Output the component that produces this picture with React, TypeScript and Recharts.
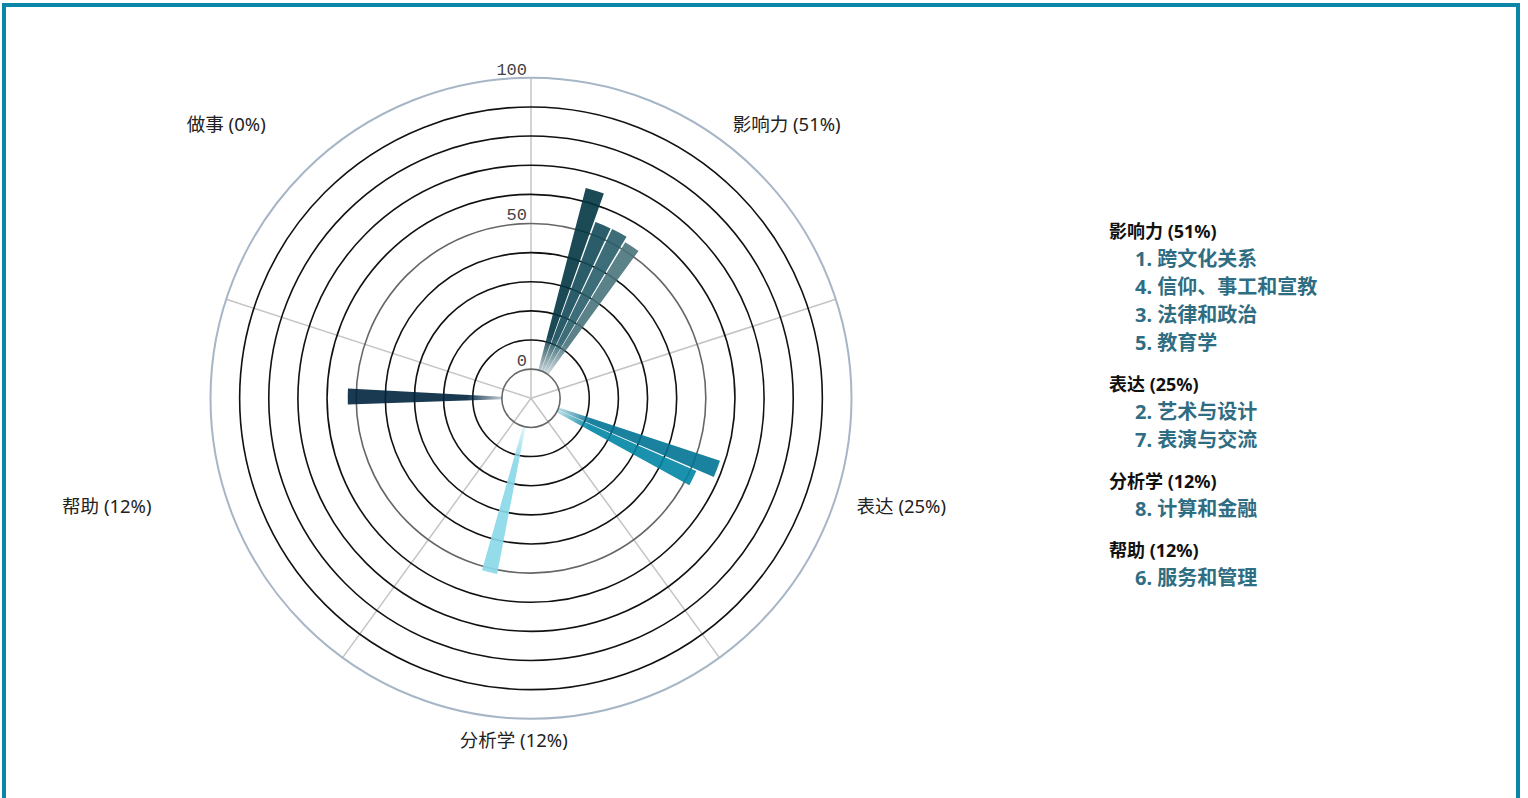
import React from 'react';
import { RadialBarChart, RadialBar, PolarAngleAxis, PolarRadiusAxis, PolarGrid, Cell } from 'recharts';

// ---------- data ----------
const groupNames = ['影响力', '表达', '分析学', '帮助', '做事'];
const groupPercents = [51, 25, 12, 12, 0];
const sectorLabelSlots = [3, 17, 30, 43, 56]; // angular slot carrying each sector's label
const sectorBoundaries = [0, 72, 144, 216, 288]; // degrees clockwise from top

const itemLabels = ['1. 跨文化关系', '4. 信仰、事工和宣教', '3. 法律和政治', '5. 教育学', '2. 艺术与设计', '7. 表演与交流', '8. 计算和金融', '6. 服务和管理'];
const itemGroups = [0, 0, 0, 0, 1, 1, 2, 3];
const itemSlots = [0, 1, 2, 3, 17, 18, 32, 46];
const itemValues = [64.6, 54.4, 54.4, 52.6, 58.3, 52.0, 51.4, 52.9];

const SLOT_COUNT = 65;
const radiusLabelTicks = [0, 50, 100];
const darkCircleValues = [10, 20, 30, 40, 60, 70, 80, 90];
const midCircleValues = [0, 50];
const outerCircleValues = [100];
const radiusDomain = [-10, 100];

// ---------- styles / layout ----------
const itemColors = ['#023643', '#134a59', '#275d6a', '#49737c', '#007394', '#0085a4', '#88d8e8', '#00243f'];
const CX = 531;
const CY = 398.3;
const R = 320.5;
const SLOT_DEG = 5.51;
const FIRST_SLOT_CENTER = 17; // degrees clockwise from top
// recharts draws each bar from its band edge toward the previous band, hence the extra half slot
const START_ANGLE = 90 - (FIRST_SLOT_CENTER + SLOT_DEG / 2);
const END_ANGLE = START_ANGLE - SLOT_COUNT * SLOT_DEG;
const FONT = '"Noto Sans", "Noto Sans CJK SC", sans-serif';
const sectorLabelOffsets = [
  [61.3, -2.8],
  [68.9, -15.8],
  [11.7, 21.8],
  [-104.5, 39.1],
  [-132.2, 12.4],
];

// grid radii derived from the radius domain
const radiusOf = (v: number) => ((v - radiusDomain[0]) / (radiusDomain[1] - radiusDomain[0])) * R;
const spokeAngles = sectorBoundaries.map((b) => 90 - b);

// table built from the arrays above
const tableData = Array.from({ length: SLOT_COUNT }, (_, k) => {
  const i = itemSlots.indexOf(k);
  const s = sectorLabelSlots.indexOf(k);
  return {
    slot: String(k),
    value: i >= 0 ? itemValues[i] : null,
    item: i >= 0 ? i : -1,
    sector: s,
  };
});

const SectorTick = (props: any) => {
  const { x, y, index } = props;
  const row = tableData[index];
  if (!row || row.sector < 0) return null;
  const s = row.sector;
  const off = sectorLabelOffsets[s];
  return (
    <text x={x + off[0]} y={y + off[1]} textAnchor="middle" fontFamily={FONT} fontSize={18.5} fill="#222">
      {`${groupNames[s]} (${groupPercents[s]}%)`}
    </text>
  );
};

const RadiusTick = (props: any) => {
  const { x, y, payload } = props;
  return (
    <text x={x - 4} y={y - 3} textAnchor="end" fontFamily='"Liberation Mono", monospace' fontSize={17} fill="#444">
      {payload.value}
    </text>
  );
};

const GroupLegend = () => (
  <div style={{ position: 'absolute', left: 1109, top: 217, fontFamily: FONT }}>
    {groupNames.map((g, gi) => {
      const items = itemLabels.filter((_, i) => itemGroups[i] === gi);
      if (!items.length) return null;
      return (
        <div key={g} style={{ marginBottom: 13 }}>
          <div style={{ fontSize: 18, fontWeight: 700, color: '#111', lineHeight: '28px', whiteSpace: 'nowrap' }}>
            {`${g} (${groupPercents[gi]}%)`}
          </div>
          {items.map((it) => (
            <div key={it} style={{ fontSize: 20, fontWeight: 700, color: '#2f6d82', lineHeight: '28px', paddingLeft: 26, whiteSpace: 'nowrap' }}>
              {it}
            </div>
          ))}
        </div>
      );
    })}
  </div>
);

export default function App() {
  return (
    <div style={{ position: 'fixed', left: 0, top: 0, width: 1528, height: 798, background: '#fff', overflow: 'hidden' }}>
      <div style={{ position: 'absolute', left: 0, top: 0 }}>
        <RadialBarChart
          width={1528}
          height={798}
          data={tableData}
          layout="centric"
          cx={CX}
          cy={CY}
          innerRadius={0}
          outerRadius={R}
          startAngle={START_ANGLE}
          endAngle={END_ANGLE}
          barCategoryGap="3%"
          margin={{ top: 0, right: 0, bottom: 0, left: 0 }}
        >
          <defs>
            {itemColors.map((c, i) => (
              <radialGradient key={i} id={`barGrad${i}`} gradientUnits="userSpaceOnUse" cx={CX} cy={CY} r={R}>
                <stop offset="0" stopColor={c} stopOpacity={0} />
                <stop offset="0.05" stopColor={c} stopOpacity={0} />
                <stop offset="0.2" stopColor={c} stopOpacity={0.9} />
                <stop offset="1" stopColor={c} stopOpacity={0.9} />
              </radialGradient>
            ))}
          </defs>
          <PolarGrid polarAngles={spokeAngles} polarRadius={[]} gridType="circle" radialLines stroke="#c4c4c4" strokeWidth={1.5} />
          <PolarGrid polarAngles={[]} polarRadius={darkCircleValues.map(radiusOf)} gridType="circle" radialLines={false} stroke="#111" strokeWidth={1.6} />
          <PolarGrid polarAngles={[]} polarRadius={midCircleValues.map(radiusOf)} gridType="circle" radialLines={false} stroke="#666" strokeWidth={1.6} />
          <PolarGrid polarAngles={[]} polarRadius={outerCircleValues.map(radiusOf)} gridType="circle" radialLines={false} stroke="#a7b6c6" strokeWidth={2} />
          <PolarAngleAxis
            type="category"
            dataKey="slot"
            axisLine={false}
            tickLine={false}
            tick={<SectorTick />}
          />
          <PolarRadiusAxis
            type="number"
            domain={radiusDomain}
            ticks={radiusLabelTicks}
            angle={90}
            axisLine={false}
            tick={<RadiusTick />}
          />
          <RadialBar dataKey="value" isAnimationActive={false}>
            {tableData.map((row, k) => (
              <Cell key={k} fill={row.item >= 0 ? `url(#barGrad${row.item})` : 'none'} />
            ))}
          </RadialBar>
        </RadialBarChart>
      </div>
      <GroupLegend />
      <div
        style={{
          position: 'absolute',
          left: 2,
          top: 3,
          width: 1518,
          height: 800,
          border: '4px solid #0c86a7',
          boxSizing: 'border-box',
          pointerEvents: 'none',
        }}
      />
    </div>
  );
}
